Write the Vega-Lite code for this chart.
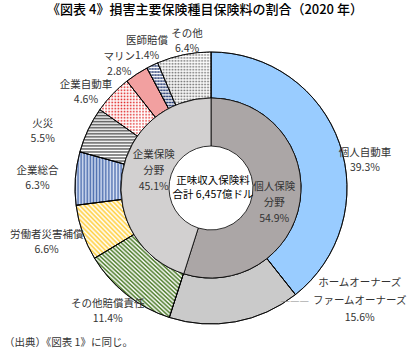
{
"$schema":"https://vega.github.io/schema/vega-lite/v6.json",
"padding":{"left":4,"top":4,"right":0,"bottom":0},
"background":"white",
"bounds":"flush",
"spacing":0,
"config":{"view":{"stroke":null},"font":"Noto Sans CJK JP"},
"title":{"text":"《図表 4》損害主要保険種目保険料の割合（2020 年）","fontSize":13,"fontWeight":500,"color":"#000","offset":11,"anchor":"middle","dx":-6},
"vconcat":[
{"width":414,"height":320,
"data":{"values":[
{"idx":1,"cat":"個人自動車","value":39.3,"label":"個人自動車\n39.3%"},
{"idx":2,"cat":"ホームオーナーズ・ファームオーナーズ","value":15.6,"label":"ホームオーナーズ\nファームオーナーズ\n15.6%"},
{"idx":3,"cat":"その他賠償責任","value":11.4,"label":"その他賠償責任\n11.4%"},
{"idx":4,"cat":"労働者災害補償","value":6.6,"label":"労働者災害補償\n6.6%"},
{"idx":5,"cat":"企業総合","value":6.3,"label":"企業総合\n6.3%"},
{"idx":6,"cat":"火災","value":5.5,"label":"火災\n5.5%"},
{"idx":7,"cat":"企業自動車","value":4.6,"label":"企業自動車\n4.6%"},
{"idx":8,"cat":"マリン","value":2.8,"label":"マリン\n2.8%"},
{"idx":9,"cat":"医師賠償","value":1.4,"label":"医師賠償\n1.4%"},
{"idx":10,"cat":"その他","value":6.4,"label":"その他\n6.4%"}
]},
"resolve":{"scale":{"theta":"independent"}},
"layer":[
{"mark":{"type":"arc","outerRadius":136,"innerRadius":90,"stroke":"#000","strokeWidth":0.8},
"encoding":{"theta":{"field":"value","type":"quantitative","stack":true},"order":{"field":"idx","type":"quantitative"},
"fill":{"condition":[
{"test":"datum.idx==1","value":"#99CCFF"},
{"test":"datum.idx==2","value":"#CACACA"},
{"test":"datum.idx==3","value":{"gradient":"linear","x1":0,"y1":1,"x2":1,"y2":0,"stops":[
{"offset":0,"color":"#4a7a26"},{"offset":0.0125,"color":"#fff"},{"offset":0.025,"color":"#4a7a26"},{"offset":0.0375,"color":"#fff"},
{"offset":0.05,"color":"#4a7a26"},{"offset":0.0625,"color":"#fff"},{"offset":0.075,"color":"#4a7a26"},{"offset":0.0875,"color":"#fff"},
{"offset":0.1,"color":"#4a7a26"},{"offset":0.1125,"color":"#fff"},{"offset":0.125,"color":"#4a7a26"},{"offset":0.1375,"color":"#fff"},
{"offset":0.15,"color":"#4a7a26"},{"offset":0.1625,"color":"#fff"},{"offset":0.175,"color":"#4a7a26"},{"offset":0.1875,"color":"#fff"},
{"offset":0.2,"color":"#4a7a26"},{"offset":0.2125,"color":"#fff"},{"offset":0.225,"color":"#4a7a26"},{"offset":0.2375,"color":"#fff"},
{"offset":0.25,"color":"#4a7a26"},{"offset":0.2625,"color":"#fff"},{"offset":0.275,"color":"#4a7a26"},{"offset":0.2875,"color":"#fff"},
{"offset":0.3,"color":"#4a7a26"},{"offset":0.3125,"color":"#fff"},{"offset":0.325,"color":"#4a7a26"},{"offset":0.3375,"color":"#fff"},
{"offset":0.35,"color":"#4a7a26"},{"offset":0.3625,"color":"#fff"},{"offset":0.375,"color":"#4a7a26"},{"offset":0.3875,"color":"#fff"},
{"offset":0.4,"color":"#4a7a26"},{"offset":0.4125,"color":"#fff"},{"offset":0.425,"color":"#4a7a26"},{"offset":0.4375,"color":"#fff"},
{"offset":0.45,"color":"#4a7a26"},{"offset":0.4625,"color":"#fff"},{"offset":0.475,"color":"#4a7a26"},{"offset":0.4875,"color":"#fff"},
{"offset":0.5,"color":"#4a7a26"},{"offset":0.5125,"color":"#fff"},{"offset":0.525,"color":"#4a7a26"},{"offset":0.5375,"color":"#fff"},
{"offset":0.55,"color":"#4a7a26"},{"offset":0.5625,"color":"#fff"},{"offset":0.575,"color":"#4a7a26"},{"offset":0.5875,"color":"#fff"},
{"offset":0.6,"color":"#4a7a26"},{"offset":0.6125,"color":"#fff"},{"offset":0.625,"color":"#4a7a26"},{"offset":0.6375,"color":"#fff"},
{"offset":0.65,"color":"#4a7a26"},{"offset":0.6625,"color":"#fff"},{"offset":0.675,"color":"#4a7a26"},{"offset":0.6875,"color":"#fff"},
{"offset":0.7,"color":"#4a7a26"},{"offset":0.7125,"color":"#fff"},{"offset":0.725,"color":"#4a7a26"},{"offset":0.7375,"color":"#fff"},
{"offset":0.75,"color":"#4a7a26"},{"offset":0.7625,"color":"#fff"},{"offset":0.775,"color":"#4a7a26"},{"offset":0.7875,"color":"#fff"},
{"offset":0.8,"color":"#4a7a26"},{"offset":0.8125,"color":"#fff"},{"offset":0.825,"color":"#4a7a26"},{"offset":0.8375,"color":"#fff"},
{"offset":0.85,"color":"#4a7a26"},{"offset":0.8625,"color":"#fff"},{"offset":0.875,"color":"#4a7a26"},{"offset":0.8875,"color":"#fff"},
{"offset":0.9,"color":"#4a7a26"},{"offset":0.9125,"color":"#fff"},{"offset":0.925,"color":"#4a7a26"},{"offset":0.9375,"color":"#fff"},
{"offset":0.95,"color":"#4a7a26"},{"offset":0.9625,"color":"#fff"},{"offset":0.975,"color":"#4a7a26"},{"offset":0.9875,"color":"#fff"},
{"offset":1,"color":"#4a7a26"}]}},
{"test":"datum.idx==4","value":{"gradient":"linear","x1":0,"y1":1,"x2":1,"y2":0,"stops":[
{"offset":0,"color":"#ffcf40"},{"offset":0.02,"color":"#fff"},{"offset":0.04,"color":"#ffcf40"},{"offset":0.06,"color":"#fff"},
{"offset":0.08,"color":"#ffcf40"},{"offset":0.1,"color":"#fff"},{"offset":0.12,"color":"#ffcf40"},{"offset":0.14,"color":"#fff"},
{"offset":0.16,"color":"#ffcf40"},{"offset":0.18,"color":"#fff"},{"offset":0.2,"color":"#ffcf40"},{"offset":0.22,"color":"#fff"},
{"offset":0.24,"color":"#ffcf40"},{"offset":0.26,"color":"#fff"},{"offset":0.28,"color":"#ffcf40"},{"offset":0.3,"color":"#fff"},
{"offset":0.32,"color":"#ffcf40"},{"offset":0.34,"color":"#fff"},{"offset":0.36,"color":"#ffcf40"},{"offset":0.38,"color":"#fff"},
{"offset":0.4,"color":"#ffcf40"},{"offset":0.42,"color":"#fff"},{"offset":0.44,"color":"#ffcf40"},{"offset":0.46,"color":"#fff"},
{"offset":0.48,"color":"#ffcf40"},{"offset":0.5,"color":"#fff"},{"offset":0.52,"color":"#ffcf40"},{"offset":0.54,"color":"#fff"},
{"offset":0.56,"color":"#ffcf40"},{"offset":0.58,"color":"#fff"},{"offset":0.6,"color":"#ffcf40"},{"offset":0.62,"color":"#fff"},
{"offset":0.64,"color":"#ffcf40"},{"offset":0.66,"color":"#fff"},{"offset":0.68,"color":"#ffcf40"},{"offset":0.7,"color":"#fff"},
{"offset":0.72,"color":"#ffcf40"},{"offset":0.74,"color":"#fff"},{"offset":0.76,"color":"#ffcf40"},{"offset":0.78,"color":"#fff"},
{"offset":0.8,"color":"#ffcf40"},{"offset":0.82,"color":"#fff"},{"offset":0.84,"color":"#ffcf40"},{"offset":0.86,"color":"#fff"},
{"offset":0.88,"color":"#ffcf40"},{"offset":0.9,"color":"#fff"},{"offset":0.92,"color":"#ffcf40"},{"offset":0.94,"color":"#fff"},
{"offset":0.96,"color":"#ffcf40"},{"offset":0.98,"color":"#fff"},{"offset":1,"color":"#ffcf40"}]}},
{"test":"datum.idx==5","value":{"gradient":"linear","x1":0,"y1":0,"x2":1,"y2":0,"stops":[
{"offset":0,"color":"#5070b0"},{"offset":0.03125,"color":"#d8e2f4"},{"offset":0.0625,"color":"#5070b0"},{"offset":0.09375,"color":"#d8e2f4"},
{"offset":0.125,"color":"#5070b0"},{"offset":0.15625,"color":"#d8e2f4"},{"offset":0.1875,"color":"#5070b0"},{"offset":0.21875,"color":"#d8e2f4"},
{"offset":0.25,"color":"#5070b0"},{"offset":0.28125,"color":"#d8e2f4"},{"offset":0.3125,"color":"#5070b0"},{"offset":0.34375,"color":"#d8e2f4"},
{"offset":0.375,"color":"#5070b0"},{"offset":0.40625,"color":"#d8e2f4"},{"offset":0.4375,"color":"#5070b0"},{"offset":0.46875,"color":"#d8e2f4"},
{"offset":0.5,"color":"#5070b0"},{"offset":0.53125,"color":"#d8e2f4"},{"offset":0.5625,"color":"#5070b0"},{"offset":0.59375,"color":"#d8e2f4"},
{"offset":0.625,"color":"#5070b0"},{"offset":0.65625,"color":"#d8e2f4"},{"offset":0.6875,"color":"#5070b0"},{"offset":0.71875,"color":"#d8e2f4"},
{"offset":0.75,"color":"#5070b0"},{"offset":0.78125,"color":"#d8e2f4"},{"offset":0.8125,"color":"#5070b0"},{"offset":0.84375,"color":"#d8e2f4"},
{"offset":0.875,"color":"#5070b0"},{"offset":0.90625,"color":"#d8e2f4"},{"offset":0.9375,"color":"#5070b0"},{"offset":0.96875,"color":"#d8e2f4"},
{"offset":1,"color":"#5070b0"}]}},
{"test":"datum.idx==6","value":{"gradient":"linear","x1":0,"y1":0,"x2":0,"y2":1,"stops":[
{"offset":0,"color":"#555"},{"offset":0.0278,"color":"#fff"},{"offset":0.0556,"color":"#555"},{"offset":0.0833,"color":"#fff"},
{"offset":0.1111,"color":"#555"},{"offset":0.1389,"color":"#fff"},{"offset":0.1667,"color":"#555"},{"offset":0.1944,"color":"#fff"},
{"offset":0.2222,"color":"#555"},{"offset":0.25,"color":"#fff"},{"offset":0.2778,"color":"#555"},{"offset":0.3056,"color":"#fff"},
{"offset":0.3333,"color":"#555"},{"offset":0.3611,"color":"#fff"},{"offset":0.3889,"color":"#555"},{"offset":0.4167,"color":"#fff"},
{"offset":0.4444,"color":"#555"},{"offset":0.4722,"color":"#fff"},{"offset":0.5,"color":"#555"},{"offset":0.5278,"color":"#fff"},
{"offset":0.5556,"color":"#555"},{"offset":0.5833,"color":"#fff"},{"offset":0.6111,"color":"#555"},{"offset":0.6389,"color":"#fff"},
{"offset":0.6667,"color":"#555"},{"offset":0.6944,"color":"#fff"},{"offset":0.7222,"color":"#555"},{"offset":0.75,"color":"#fff"},
{"offset":0.7778,"color":"#555"},{"offset":0.8056,"color":"#fff"},{"offset":0.8333,"color":"#555"},{"offset":0.8611,"color":"#fff"},
{"offset":0.8889,"color":"#555"},{"offset":0.9167,"color":"#fff"},{"offset":0.9444,"color":"#555"},{"offset":0.9722,"color":"#fff"},
{"offset":1,"color":"#555"}]}},
{"test":"datum.idx==7","value":{"gradient":"linear","x1":0,"y1":0,"x2":0,"y2":1,"stops":[
{"offset":0,"color":"#e02828"},{"offset":0.0278,"color":"#fff"},{"offset":0.0556,"color":"#e02828"},{"offset":0.0833,"color":"#fff"},
{"offset":0.1111,"color":"#e02828"},{"offset":0.1389,"color":"#fff"},{"offset":0.1667,"color":"#e02828"},{"offset":0.1944,"color":"#fff"},
{"offset":0.2222,"color":"#e02828"},{"offset":0.25,"color":"#fff"},{"offset":0.2778,"color":"#e02828"},{"offset":0.3056,"color":"#fff"},
{"offset":0.3333,"color":"#e02828"},{"offset":0.3611,"color":"#fff"},{"offset":0.3889,"color":"#e02828"},{"offset":0.4167,"color":"#fff"},
{"offset":0.4444,"color":"#e02828"},{"offset":0.4722,"color":"#fff"},{"offset":0.5,"color":"#e02828"},{"offset":0.5278,"color":"#fff"},
{"offset":0.5556,"color":"#e02828"},{"offset":0.5833,"color":"#fff"},{"offset":0.6111,"color":"#e02828"},{"offset":0.6389,"color":"#fff"},
{"offset":0.6667,"color":"#e02828"},{"offset":0.6944,"color":"#fff"},{"offset":0.7222,"color":"#e02828"},{"offset":0.75,"color":"#fff"},
{"offset":0.7778,"color":"#e02828"},{"offset":0.8056,"color":"#fff"},{"offset":0.8333,"color":"#e02828"},{"offset":0.8611,"color":"#fff"},
{"offset":0.8889,"color":"#e02828"},{"offset":0.9167,"color":"#fff"},{"offset":0.9444,"color":"#e02828"},{"offset":0.9722,"color":"#fff"},
{"offset":1,"color":"#e02828"}]}},
{"test":"datum.idx==8","value":"#F2A0A0"},
{"test":"datum.idx==9","value":{"gradient":"linear","x1":0,"y1":0,"x2":0,"y2":1,"stops":[
{"offset":0,"color":"#142a66"},{"offset":0.0333,"color":"#fff"},{"offset":0.0667,"color":"#142a66"},{"offset":0.1,"color":"#fff"},
{"offset":0.1333,"color":"#142a66"},{"offset":0.1667,"color":"#fff"},{"offset":0.2,"color":"#142a66"},{"offset":0.2333,"color":"#fff"},
{"offset":0.2667,"color":"#142a66"},{"offset":0.3,"color":"#fff"},{"offset":0.3333,"color":"#142a66"},{"offset":0.3667,"color":"#fff"},
{"offset":0.4,"color":"#142a66"},{"offset":0.4333,"color":"#fff"},{"offset":0.4667,"color":"#142a66"},{"offset":0.5,"color":"#fff"},
{"offset":0.5333,"color":"#142a66"},{"offset":0.5667,"color":"#fff"},{"offset":0.6,"color":"#142a66"},{"offset":0.6333,"color":"#fff"},
{"offset":0.6667,"color":"#142a66"},{"offset":0.7,"color":"#fff"},{"offset":0.7333,"color":"#142a66"},{"offset":0.7667,"color":"#fff"},
{"offset":0.8,"color":"#142a66"},{"offset":0.8333,"color":"#fff"},{"offset":0.8667,"color":"#142a66"},{"offset":0.9,"color":"#fff"},
{"offset":0.9333,"color":"#142a66"},{"offset":0.9667,"color":"#fff"},{"offset":1,"color":"#142a66"}]}}
],"value":{"gradient":"linear","x1":0,"y1":0,"x2":0,"y2":1,"stops":[
{"offset":0,"color":"#707070"},{"offset":0.0278,"color":"#fff"},{"offset":0.0556,"color":"#707070"},{"offset":0.0833,"color":"#fff"},
{"offset":0.1111,"color":"#707070"},{"offset":0.1389,"color":"#fff"},{"offset":0.1667,"color":"#707070"},{"offset":0.1944,"color":"#fff"},
{"offset":0.2222,"color":"#707070"},{"offset":0.25,"color":"#fff"},{"offset":0.2778,"color":"#707070"},{"offset":0.3056,"color":"#fff"},
{"offset":0.3333,"color":"#707070"},{"offset":0.3611,"color":"#fff"},{"offset":0.3889,"color":"#707070"},{"offset":0.4167,"color":"#fff"},
{"offset":0.4444,"color":"#707070"},{"offset":0.4722,"color":"#fff"},{"offset":0.5,"color":"#707070"},{"offset":0.5278,"color":"#fff"},
{"offset":0.5556,"color":"#707070"},{"offset":0.5833,"color":"#fff"},{"offset":0.6111,"color":"#707070"},{"offset":0.6389,"color":"#fff"},
{"offset":0.6667,"color":"#707070"},{"offset":0.6944,"color":"#fff"},{"offset":0.7222,"color":"#707070"},{"offset":0.75,"color":"#fff"},
{"offset":0.7778,"color":"#707070"},{"offset":0.8056,"color":"#fff"},{"offset":0.8333,"color":"#707070"},{"offset":0.8611,"color":"#fff"},
{"offset":0.8889,"color":"#707070"},{"offset":0.9167,"color":"#fff"},{"offset":0.9444,"color":"#707070"},{"offset":0.9722,"color":"#fff"},
{"offset":1,"color":"#707070"}]}}}},
{"mark":{"type":"arc","outerRadius":136,"innerRadius":90,"stroke":"#000","strokeWidth":0.8},
"encoding":{"theta":{"field":"value","type":"quantitative","stack":true},"order":{"field":"idx","type":"quantitative"},
"fill":{"condition":[
{"test":"datum.idx==7","value":{"gradient":"linear","x1":0,"y1":0,"x2":1,"y2":0,"stops":[
{"offset":0,"color":"rgba(255,255,255,0)"},{"offset":0.0278,"color":"#fff"},{"offset":0.0556,"color":"rgba(255,255,255,0)"},{"offset":0.0833,"color":"#fff"},
{"offset":0.1111,"color":"rgba(255,255,255,0)"},{"offset":0.1389,"color":"#fff"},{"offset":0.1667,"color":"rgba(255,255,255,0)"},{"offset":0.1944,"color":"#fff"},
{"offset":0.2222,"color":"rgba(255,255,255,0)"},{"offset":0.25,"color":"#fff"},{"offset":0.2778,"color":"rgba(255,255,255,0)"},{"offset":0.3056,"color":"#fff"},
{"offset":0.3333,"color":"rgba(255,255,255,0)"},{"offset":0.3611,"color":"#fff"},{"offset":0.3889,"color":"rgba(255,255,255,0)"},{"offset":0.4167,"color":"#fff"},
{"offset":0.4444,"color":"rgba(255,255,255,0)"},{"offset":0.4722,"color":"#fff"},{"offset":0.5,"color":"rgba(255,255,255,0)"},{"offset":0.5278,"color":"#fff"},
{"offset":0.5556,"color":"rgba(255,255,255,0)"},{"offset":0.5833,"color":"#fff"},{"offset":0.6111,"color":"rgba(255,255,255,0)"},{"offset":0.6389,"color":"#fff"},
{"offset":0.6667,"color":"rgba(255,255,255,0)"},{"offset":0.6944,"color":"#fff"},{"offset":0.7222,"color":"rgba(255,255,255,0)"},{"offset":0.75,"color":"#fff"},
{"offset":0.7778,"color":"rgba(255,255,255,0)"},{"offset":0.8056,"color":"#fff"},{"offset":0.8333,"color":"rgba(255,255,255,0)"},{"offset":0.8611,"color":"#fff"},
{"offset":0.8889,"color":"rgba(255,255,255,0)"},{"offset":0.9167,"color":"#fff"},{"offset":0.9444,"color":"rgba(255,255,255,0)"},{"offset":0.9722,"color":"#fff"},
{"offset":1,"color":"rgba(255,255,255,0)"}]}},
{"test":"datum.idx==9","value":{"gradient":"linear","x1":0,"y1":0,"x2":1,"y2":0,"stops":[
{"offset":0,"color":"rgba(255,255,255,0)"},{"offset":0.05,"color":"rgba(255,255,255,0.4)"},{"offset":0.1,"color":"rgba(255,255,255,0)"},{"offset":0.15,"color":"rgba(255,255,255,0.4)"},
{"offset":0.2,"color":"rgba(255,255,255,0)"},{"offset":0.25,"color":"rgba(255,255,255,0.4)"},{"offset":0.3,"color":"rgba(255,255,255,0)"},{"offset":0.35,"color":"rgba(255,255,255,0.4)"},
{"offset":0.4,"color":"rgba(255,255,255,0)"},{"offset":0.45,"color":"rgba(255,255,255,0.4)"},{"offset":0.5,"color":"rgba(255,255,255,0)"},{"offset":0.55,"color":"rgba(255,255,255,0.4)"},
{"offset":0.6,"color":"rgba(255,255,255,0)"},{"offset":0.65,"color":"rgba(255,255,255,0.4)"},{"offset":0.7,"color":"rgba(255,255,255,0)"},{"offset":0.75,"color":"rgba(255,255,255,0.4)"},
{"offset":0.8,"color":"rgba(255,255,255,0)"},{"offset":0.85,"color":"rgba(255,255,255,0.4)"},{"offset":0.9,"color":"rgba(255,255,255,0)"},{"offset":0.95,"color":"rgba(255,255,255,0.4)"},
{"offset":1,"color":"rgba(255,255,255,0)"}]}},
{"test":"datum.idx==10","value":{"gradient":"linear","x1":0,"y1":0,"x2":1,"y2":0,"stops":[
{"offset":0,"color":"rgba(255,255,255,0)"},{"offset":0.0278,"color":"rgba(255,255,255,0.85)"},{"offset":0.0556,"color":"rgba(255,255,255,0)"},{"offset":0.0833,"color":"rgba(255,255,255,0.85)"},
{"offset":0.1111,"color":"rgba(255,255,255,0)"},{"offset":0.1389,"color":"rgba(255,255,255,0.85)"},{"offset":0.1667,"color":"rgba(255,255,255,0)"},{"offset":0.1944,"color":"rgba(255,255,255,0.85)"},
{"offset":0.2222,"color":"rgba(255,255,255,0)"},{"offset":0.25,"color":"rgba(255,255,255,0.85)"},{"offset":0.2778,"color":"rgba(255,255,255,0)"},{"offset":0.3056,"color":"rgba(255,255,255,0.85)"},
{"offset":0.3333,"color":"rgba(255,255,255,0)"},{"offset":0.3611,"color":"rgba(255,255,255,0.85)"},{"offset":0.3889,"color":"rgba(255,255,255,0)"},{"offset":0.4167,"color":"rgba(255,255,255,0.85)"},
{"offset":0.4444,"color":"rgba(255,255,255,0)"},{"offset":0.4722,"color":"rgba(255,255,255,0.85)"},{"offset":0.5,"color":"rgba(255,255,255,0)"},{"offset":0.5278,"color":"rgba(255,255,255,0.85)"},
{"offset":0.5556,"color":"rgba(255,255,255,0)"},{"offset":0.5833,"color":"rgba(255,255,255,0.85)"},{"offset":0.6111,"color":"rgba(255,255,255,0)"},{"offset":0.6389,"color":"rgba(255,255,255,0.85)"},
{"offset":0.6667,"color":"rgba(255,255,255,0)"},{"offset":0.6944,"color":"rgba(255,255,255,0.85)"},{"offset":0.7222,"color":"rgba(255,255,255,0)"},{"offset":0.75,"color":"rgba(255,255,255,0.85)"},
{"offset":0.7778,"color":"rgba(255,255,255,0)"},{"offset":0.8056,"color":"rgba(255,255,255,0.85)"},{"offset":0.8333,"color":"rgba(255,255,255,0)"},{"offset":0.8611,"color":"rgba(255,255,255,0.85)"},
{"offset":0.8889,"color":"rgba(255,255,255,0)"},{"offset":0.9167,"color":"rgba(255,255,255,0.85)"},{"offset":0.9444,"color":"rgba(255,255,255,0)"},{"offset":0.9722,"color":"rgba(255,255,255,0.85)"},
{"offset":1,"color":"rgba(255,255,255,0)"}]}}
],"value":"transparent"}}},
{"mark":{"type":"text","clip":true,"radius":163,"dy":18.5,"lineBreak":"\n","lineHeight":15,"fontSize":10.5,"fill":"#333"},
"encoding":{"theta":{"field":"value","type":"quantitative","stack":true},"order":{"field":"idx","type":"quantitative"},
"text":{"field":"label","type":"nominal","condition":{"test":"datum.idx!=1","value":""}}}},
{"mark":{"type":"text","clip":true,"radius":150,"dx":122,"dy":-52.5,"lineBreak":"\n","lineHeight":17.5,"fontSize":10.5,"fill":"#333"},
"encoding":{"theta":{"field":"value","type":"quantitative","stack":true},"order":{"field":"idx","type":"quantitative"},
"text":{"field":"label","type":"nominal","condition":{"test":"datum.idx!=2","value":""}}}},
{"mark":{"type":"text","clip":true,"radius":150,"dx":57,"dy":-35,"fontSize":9.5,"font":"DejaVu Sans","fill":"#888"},
"encoding":{"theta":{"field":"value","type":"quantitative","stack":true},"order":{"field":"idx","type":"quantitative"},
"text":{"datum":"———","condition":{"test":"datum.idx!=2","value":""}}}},
{"mark":{"type":"text","clip":true,"radius":160,"dx":-4,"dy":-9.5,"lineBreak":"\n","lineHeight":15,"fontSize":10.5,"fill":"#333"},
"encoding":{"theta":{"field":"value","type":"quantitative","stack":true},"order":{"field":"idx","type":"quantitative"},
"text":{"field":"label","type":"nominal","condition":{"test":"datum.idx!=3","value":""}}}},
{"mark":{"type":"text","clip":true,"radius":174,"dy":-10.5,"lineBreak":"\n","lineHeight":15,"fontSize":10.5,"fill":"#333"},
"encoding":{"theta":{"field":"value","type":"quantitative","stack":true},"order":{"field":"idx","type":"quantitative"},
"text":{"field":"label","type":"nominal","condition":{"test":"datum.idx!=4","value":""}}}},
{"mark":{"type":"text","clip":true,"radius":174,"dy":-4.5,"lineBreak":"\n","lineHeight":15,"fontSize":10.5,"fill":"#333"},
"encoding":{"theta":{"field":"value","type":"quantitative","stack":true},"order":{"field":"idx","type":"quantitative"},
"text":{"field":"label","type":"nominal","condition":{"test":"datum.idx!=5","value":""}}}},
{"mark":{"type":"text","clip":true,"radius":174,"dx":-11,"dy":10.5,"lineBreak":"\n","lineHeight":15,"fontSize":10.5,"fill":"#333"},
"encoding":{"theta":{"field":"value","type":"quantitative","stack":true},"order":{"field":"idx","type":"quantitative"},
"text":{"field":"label","type":"nominal","condition":{"test":"datum.idx!=6","value":""}}}},
{"mark":{"type":"text","clip":true,"radius":160,"dx":-9,"dy":7.5,"lineBreak":"\n","lineHeight":15,"fontSize":10.5,"fill":"#333"},
"encoding":{"theta":{"field":"value","type":"quantitative","stack":true},"order":{"field":"idx","type":"quantitative"},
"text":{"field":"label","type":"nominal","condition":{"test":"datum.idx!=7","value":""}}}},
{"mark":{"type":"text","clip":true,"radius":155,"dx":-7,"dy":-1.5,"lineBreak":"\n","lineHeight":15,"fontSize":10.5,"fill":"#333"},
"encoding":{"theta":{"field":"value","type":"quantitative","stack":true},"order":{"field":"idx","type":"quantitative"},
"text":{"field":"label","type":"nominal","condition":{"test":"datum.idx!=8","value":""}}}},
{"mark":{"type":"text","clip":true,"radius":155,"dx":3,"dy":-7.5,"lineBreak":"\n","lineHeight":15,"fontSize":10.5,"fill":"#333"},
"encoding":{"theta":{"field":"value","type":"quantitative","stack":true},"order":{"field":"idx","type":"quantitative"},
"text":{"field":"label","type":"nominal","condition":{"test":"datum.idx!=9","value":""}}}},
{"mark":{"type":"text","radius":150,"dx":6,"dy":-7.5,"lineBreak":"\n","lineHeight":15,"fontSize":10.5,"fill":"#333"},
"encoding":{"theta":{"field":"value","type":"quantitative","stack":true},"order":{"field":"idx","type":"quantitative"},
"text":{"field":"label","type":"nominal","condition":{"test":"datum.idx!=10","value":""}}}},
{"data":{"values":[
{"idx":1,"cat":"個人保険分野","value":54.9,"label":"個人保険\n分野\n54.9%"},
{"idx":2,"cat":"企業保険分野","value":45.1,"label":"企業保険\n分野\n45.1%"}
]},
"layer":[
{"mark":{"type":"arc","outerRadius":90,"innerRadius":42,"stroke":"#000","strokeWidth":0.8},
"encoding":{"theta":{"field":"value","type":"quantitative","stack":true},"order":{"field":"idx","type":"quantitative"},
"fill":{"condition":{"test":"datum.idx==1","value":"#ABA6A6"},"value":"#D2D0D0"}}},
{"mark":{"type":"text","radius":64,"dy":-11,"lineBreak":"\n","lineHeight":16,"fontSize":10.5,"fill":"#333"},
"encoding":{"theta":{"field":"value","type":"quantitative","stack":true},"order":{"field":"idx","type":"quantitative"},
"text":{"field":"label","type":"nominal","condition":{"test":"datum.idx!=1","value":""}}}},
{"mark":{"type":"text","radius":60,"dx":2,"dy":-24,"lineBreak":"\n","lineHeight":16,"fontSize":10.5,"fill":"#333"},
"encoding":{"theta":{"field":"value","type":"quantitative","stack":true},"order":{"field":"idx","type":"quantitative"},
"text":{"field":"label","type":"nominal","condition":{"test":"datum.idx!=2","value":""}}}}
]},
{"data":{"values":[{"t":"正味収入保険料\n合計 6,457億ドル"}]},
"mark":{"type":"text","lineBreak":"\n","lineHeight":14,"fontSize":10.5,"fill":"#000","dx":2,"dy":-7},
"encoding":{"text":{"field":"t","type":"nominal"}}}
]},
{"width":414,"height":1,
"title":{"text":"（出典）《図表 1》に同じ。","anchor":"start","fontSize":10.5,"fontWeight":"normal","color":"#333","offset":0},
"data":{"values":[]},"mark":"point"}
]}
